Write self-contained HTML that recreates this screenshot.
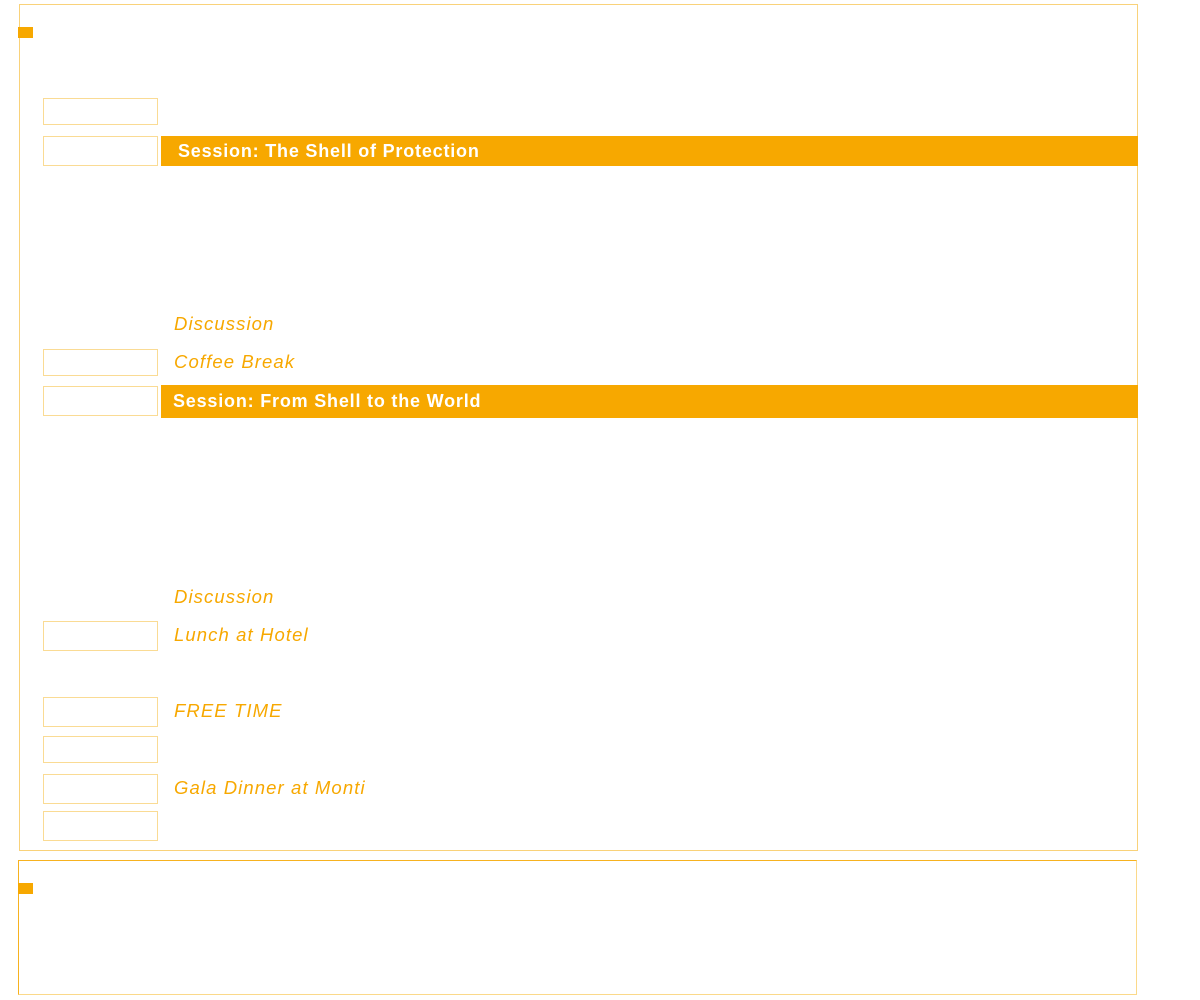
<!DOCTYPE html>
<html><head><style>
body{margin:0;width:1200px;height:1000px;background:#fff;position:relative;font-family:"Liberation Sans",sans-serif;overflow:hidden}
.a{position:absolute;box-sizing:border-box}
.f{border:1px solid #f9d27a}
.t{border:1px solid #fadb94;left:43px;width:115px}
.sq{background:#f7a800;left:18px;width:15px;height:11px}
.bar{background:#f7a800;left:161px;width:977px;color:#fff;font-weight:bold;font-size:18px;display:flex;align-items:center;letter-spacing:0.8px}
.i{left:174px;color:#f7a800;font-style:italic;font-size:18.5px;line-height:24px;height:24px;letter-spacing:1.1px}
</style></head><body>
<div class="a f" style="left:19px;top:4px;width:1119px;height:847px"></div>
<div class="a sq" style="top:27px"></div>
<div class="a t" style="top:98px;height:27px"></div>
<div class="a t" style="top:136px;height:30px"></div>
<div class="a bar" style="top:136px;height:30px;padding-left:17px">Session: The Shell of Protection</div>
<div class="a i" style="top:312px">Discussion</div>
<div class="a t" style="top:349px;height:27px"></div>
<div class="a i" style="top:350px">Coffee Break</div>
<div class="a t" style="top:386px;height:30px"></div>
<div class="a bar" style="top:385px;height:33px;padding-left:12px">Session: From Shell to the World</div>
<div class="a i" style="top:585px">Discussion</div>
<div class="a t" style="top:621px;height:30px"></div>
<div class="a i" style="top:623px">Lunch at Hotel</div>
<div class="a t" style="top:697px;height:30px"></div>
<div class="a i" style="top:699px">FREE TIME</div>
<div class="a t" style="top:736px;height:27px"></div>
<div class="a t" style="top:774px;height:30px"></div>
<div class="a i" style="top:776px">Gala Dinner at Monti</div>
<div class="a t" style="top:811px;height:30px"></div>
<div class="a" style="left:18px;top:860px;width:1119px;height:135px;border:1px solid #f7b21f;border-bottom-color:#fbd98a;border-right-color:#fbd98a"></div>
<div class="a sq" style="top:883px"></div>
</body></html>
